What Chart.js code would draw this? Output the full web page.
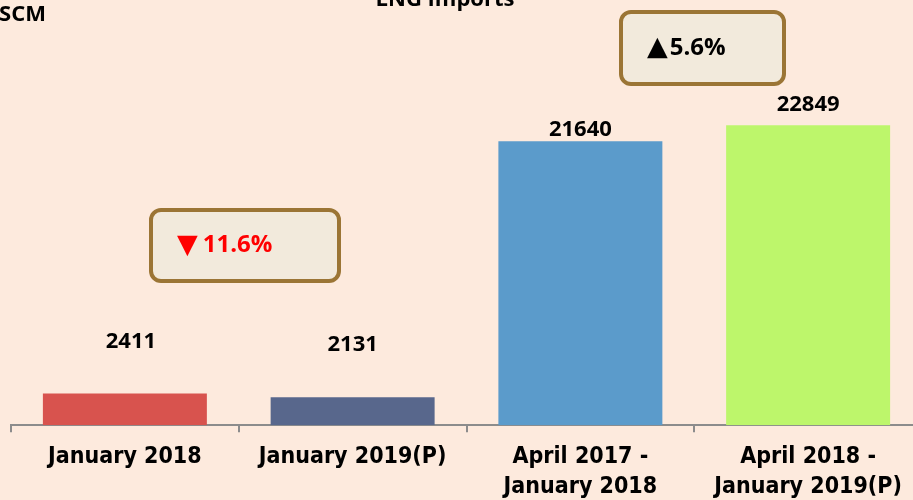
<!DOCTYPE html>
<html>
<head>
<meta charset="utf-8">
<script src="https://cdn.jsdelivr.net/npm/chart.js@4/dist/chart.umd.min.js"></script>
<style>
  html, body { margin: 0; padding: 0; background: #fdeadd; overflow: hidden; }
  #wrap { position: relative; width: 925px; height: 512px; }
</style>
</head>
<body>
<div id="wrap"><canvas id="lngChart"></canvas></div>
<script>
'use strict';

// Dados do gráfico
const categories = [
    'January 2018',
    'January 2019(P)',
    ['April 2017 -', 'January 2018'],
    ['April 2018 -', 'January 2019(P)']
];
const imports = [2411, 2131, 21640, 22849];
const barColors = ['#d8534e', '#58678c', '#5b9bcb', '#bdf66b'];
const changeArrows = ['\u25BC', '\u25B2'];
const changeValues = ['11.6%', '5.6%'];

// Deslocamento dos rótulos acima das barras (px)
const labelLift = [52, 52, 11, 21];

const ctx = document.getElementById('lngChart').getContext('2d');

// Textos e caixas desenhados diretamente no canvas
const extras = {
    id: 'extras',
    afterDraw(chart) {
        const c = chart.ctx;
        const meta = chart.getDatasetMeta(0);
        c.save();
        c.fillStyle = '#000';
        c.textAlign = 'center';
        c.textBaseline = 'middle';
        c.font = 'bold 22px "Open Sans"';
        meta.data.forEach((bar, i) => {
            c.fillText(String(imports[i]), bar.x + (i === 0 ? 6 : 0), bar.y - labelLift[i]);
        });

        // título (cortado no topo) e unidade
        c.textBaseline = 'alphabetic';
        c.font = 'bold 22px "Open Sans"';
        c.fillText('LNG Imports', 445, 6);
        c.textAlign = 'right';
        c.fillText('MMSCM', 46, 21);

        // caixas de variação
        const box = (x, y, w, h, arrow, text, color, gap) => {
            c.beginPath();
            c.roundRect(x, y, w, h, 10);
            c.fillStyle = '#f2eadc';
            c.fill();
            c.lineWidth = 4;
            c.strokeStyle = '#9b7535';
            c.stroke();
            c.fillStyle = color;
            c.textAlign = 'left';
            c.textBaseline = 'middle';
            c.font = 'bold 27px "DejaVu Sans"';
            const cy = y + h / 2;
            c.fillText(arrow, x + 26, cy);
            const aw = c.measureText(arrow).width;
            c.font = 'bold 24px "Open Sans"';
            c.fillText(text, x + 26 + aw + gap, cy);
        };
        box(151, 210, 188, 71, changeArrows[0], changeValues[0], '#ff0000', 5);
        box(621, 12, 163, 72, changeArrows[1], changeValues[1], '#000', 2);
        c.restore();
    }
};

new Chart(ctx, {
    type: 'bar',
    data: {
        labels: categories,
        datasets: [{
            data: imports,
            backgroundColor: barColors,
            borderWidth: 0,
            categoryPercentage: 0.72,
            barPercentage: 1
        }]
    },
    options: {
        responsive: true,
        maintainAspectRatio: false,
        animation: false,
        layout: { padding: { left: 11, right: 3, top: 0, bottom: 0 } },
        plugins: {
            legend: { display: false },
            tooltip: { enabled: false }
        },
        scales: {
            x: {
                grid: {
                    drawOnChartArea: false,
                    drawTicks: true,
                    tickLength: 7,
                    color: '#8c8c8c',
                    lineWidth: 2
                },
                border: { display: true, color: '#8c8c8c', width: 2 },
                ticks: {
                    color: '#000',
                    padding: 10,
                    maxRotation: 0,
                    font: { family: '"DejaVu Sans Condensed", "DejaVu Sans", sans-serif', size: 23, weight: 'bold', lineHeight: 1.3 }
                }
            },
            y: {
                display: false,
                min: 0,
                max: 32400
            }
        }
    },
    plugins: [extras]
});
</script>
</body>
</html>
